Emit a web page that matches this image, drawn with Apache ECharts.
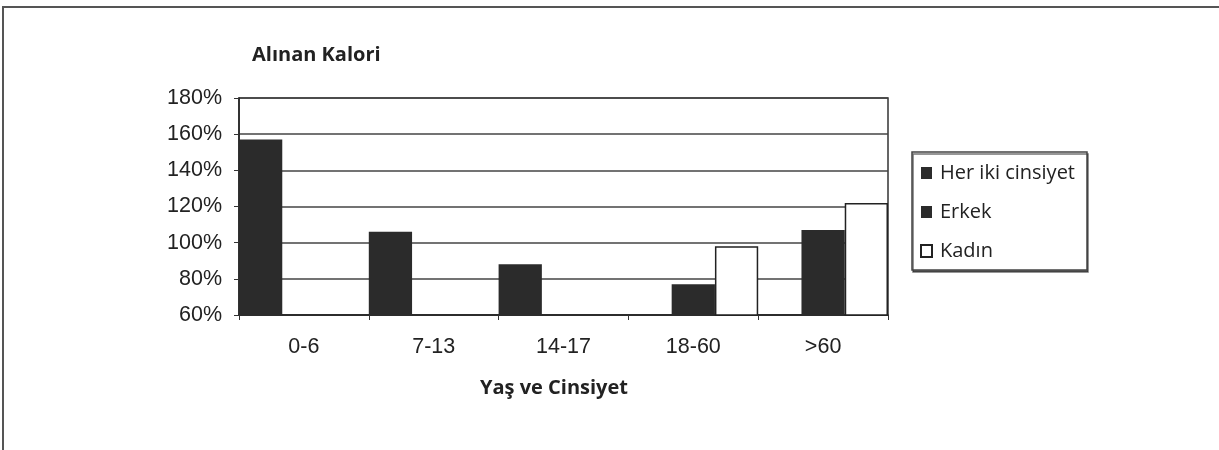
<!DOCTYPE html>
<html>
<head>
<meta charset="utf-8">
<script src="https://cdn.jsdelivr.net/npm/echarts@6/dist/echarts.min.js"></script>
<style>
  html, body { margin: 0; padding: 0; background: #fff; }
  #chart { width: 1219px; height: 450px; }
</style>
</head>
<body>
<div id="chart"></div>
<script>
const categories = ['0-6', '7-13', '14-17', '18-60', '>60'];
const herIki = [157, 106, 88, '-', '-'];
const erkek = ['-', '-', '-', 77, 107];
const kadin = ['-', '-', '-', 98, 122];

const labelFont = 'Liberation Sans, Arial, sans-serif';
const textFont = 'Open Sans, sans-serif';
const dark = '#2b2b2b';

const chart = echarts.init(document.getElementById('chart'));
chart.setOption({
  animation: false,
  backgroundColor: '#fff',
  title: [
    {
      text: 'Alınan Kalori',
      left: 252, top: 45,
      padding: 0,
      textStyle: { fontFamily: textFont, fontWeight: 'bold', fontSize: 20, color: '#222' },
    },
    {
      text: 'Yaş ve Cinsiyet',
      left: 480, top: 378,
      padding: 0,
      textStyle: { fontFamily: textFont, fontWeight: 'bold', fontSize: 20, color: '#222' },
    },
  ],
  legend: {
    orient: 'vertical',
    left: 912, top: 152,
    padding: [11, 12, 9, 8],
    itemGap: 19,
    itemWidth: 11, itemHeight: 12,
    icon: 'rect',
    backgroundColor: '#fff',
    borderColor: '#444',
    borderWidth: 1.5,
    borderRadius: 0,
    shadowColor: 'rgba(0,0,0,0.55)',
    shadowOffsetX: 1, shadowOffsetY: 2,
    textStyle: { fontFamily: textFont, fontSize: 20, color: '#222', padding: [0, 0, 0, 3] },
    data: ['Her iki cinsiyet', 'Erkek', 'Kadın'],
  },
  grid: {
    left: 239, right: 331, top: 98, bottom: 135,
    show: true, borderColor: '#333', borderWidth: 1.5, backgroundColor: 'transparent',
  },
  xAxis: {
    type: 'category',
    data: categories,
    axisLine: { lineStyle: { color: '#222', width: 1.5 } },
    axisTick: { show: true, length: 5, lineStyle: { color: '#333' } },
    axisLabel: { fontFamily: labelFont, fontSize: 21.5, color: '#222', margin: 21 },
  },
  yAxis: {
    type: 'value',
    min: 60, max: 180, interval: 20,
    axisLine: { show: true, lineStyle: { color: '#222', width: 1.5 } },
    axisTick: { show: true, length: 5, lineStyle: { color: '#333' } },
    axisLabel: { fontFamily: labelFont, fontSize: 21.5, color: '#222', margin: 17, formatter: '{value}%' },
    splitLine: { lineStyle: { color: '#444', width: 1.6 } },
  },
  series: [
    {
      name: 'Her iki cinsiyet', type: 'bar', data: herIki,
      barGap: '0%', barCategoryGap: '0%',
      itemStyle: { color: dark },
    },
    {
      name: 'Erkek', type: 'bar', data: erkek,
      itemStyle: { color: dark },
    },
    {
      name: 'Kadın', type: 'bar', data: kadin,
      itemStyle: { color: '#fff', borderColor: '#222', borderWidth: 1.5 },
    },
  ],
  graphic: [
    { type: 'line', shape: { x1: 3, y1: 7, x2: 1219, y2: 7 }, style: { stroke: '#555', lineWidth: 2 } },
    { type: 'line', shape: { x1: 3, y1: 6, x2: 3, y2: 450 }, style: { stroke: '#555', lineWidth: 2 } },
  ],
});
</script>
</body>
</html>
